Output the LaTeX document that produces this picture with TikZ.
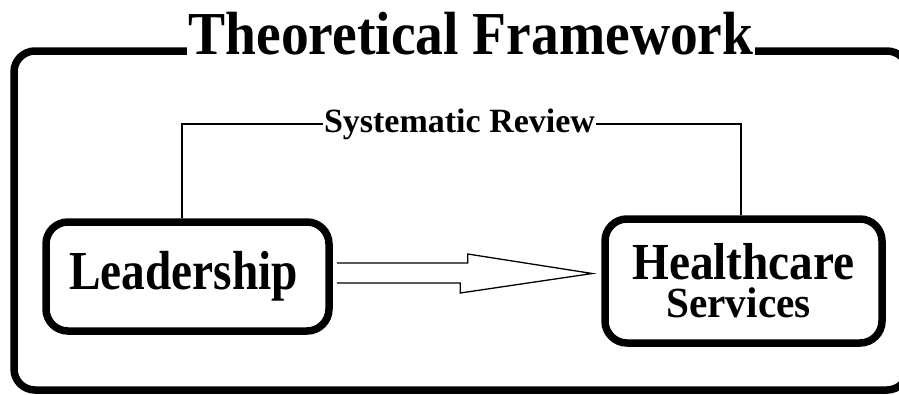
\documentclass[tikz,border=0pt]{standalone}
\usepackage{fontspec}
\setmainfont{Liberation Serif}
\begin{document}
\begin{tikzpicture}[x=1pt,y=-1pt,
  frame/.style={line width=7.5pt, rounded corners=21pt},
  bigbox/.style={draw, line width=7.5pt, rounded corners=22pt, inner sep=0pt},
  thinline/.style={line width=1.3pt},
  ttl/.style={font=\bfseries\fontsize{61}{61}\selectfont, xscale=0.91, transform shape, anchor=base, fill=white, inner xsep=2pt, inner ysep=0pt},
  lbl/.style={font=\bfseries\fontsize{34}{34}\selectfont, anchor=base, inner xsep=1pt, inner ysep=0pt, fill=white}
]
\useasboundingbox (0,0) rectangle (899,394);
% outer frame
\draw[frame] (14,51) rectangle (908,390);
% title
\node[ttl] (title) at (471,54) {Theoretical Framework};
% boxes
\node[bigbox, minimum width=283pt, minimum height=109pt, font=\bfseries\fontsize{55}{55}\selectfont] (lead) at (187.5,276.5) {\scalebox{0.86}[1]{Leadership}\rule{8pt}{0pt}};
\node[bigbox, minimum width=277pt, minimum height=124pt, align=center, font=\bfseries\fontsize{52}{38}\selectfont] (hc) at (743.5,281) {\scalebox{0.91}[1]{Healthcare}\\{\fontsize{43}{38}\selectfont\scalebox{0.96}[1]{Services}\rule{10pt}{0pt}}};
% systematic review
\node[lbl] (sr) at (459.5,132) {Systematic Review};
\draw[thinline] ([xshift=-5.5pt]lead.north) |- (sr.west);
\draw[thinline] (sr.east) -| ([xshift=-2.5pt]hc.north);
% hollow arrow
\coordinate (tip) at ([xshift=-9pt,yshift=7.5pt]hc.west);
\draw[thinline, line join=miter] ([xshift=4pt,yshift=13.5pt]lead.east) -- ++(131,0) -- ++(0,-9) -- (tip) -- ++(-132,19.5) -- ++(0,-10) -- ([xshift=4pt,yshift=-6.5pt]lead.east);
\end{tikzpicture}
\end{document}
